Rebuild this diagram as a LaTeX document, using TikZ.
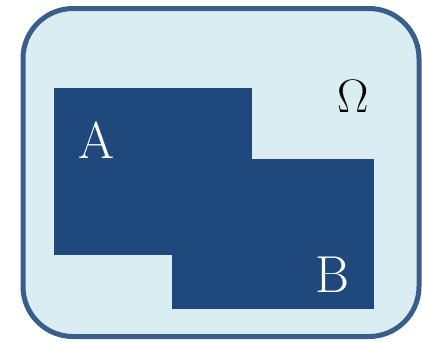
\documentclass[tikz,border=0pt]{standalone}
\usepackage{fontspec}
\definecolor{omegafill}{HTML}{DAEDF3}
\definecolor{omegaline}{HTML}{3A5E8C}
\definecolor{setfill}{HTML}{1F497D}
\begin{document}
\begin{tikzpicture}[x=1pt,y=-1pt,
  setbox/.style={fill=setfill,draw=none},
  setlabel/.style={text=white,anchor=base,inner sep=0pt,font=\fontsize{52}{52}\selectfont},
  univlabel/.style={text=black,anchor=base,inner sep=0pt,font=\fontsize{47}{47}\selectfont}]
\useasboundingbox (0,0) rectangle (422,341);
\draw[fill=omegafill,draw=omegaline,line width=5pt,rounded corners=50pt] (23,8.5) rectangle (419,336.5);
\fill[setfill] (54,88) rectangle (252,255);
\fill[setfill] (172,159) rectangle (374,308.5);
\node[setlabel] (A) at (97,158) {A};
\node[setlabel] (B) at (332,292) {B};
\node[univlabel] (O) at (353,112) {Ω};
\end{tikzpicture}
\end{document}
